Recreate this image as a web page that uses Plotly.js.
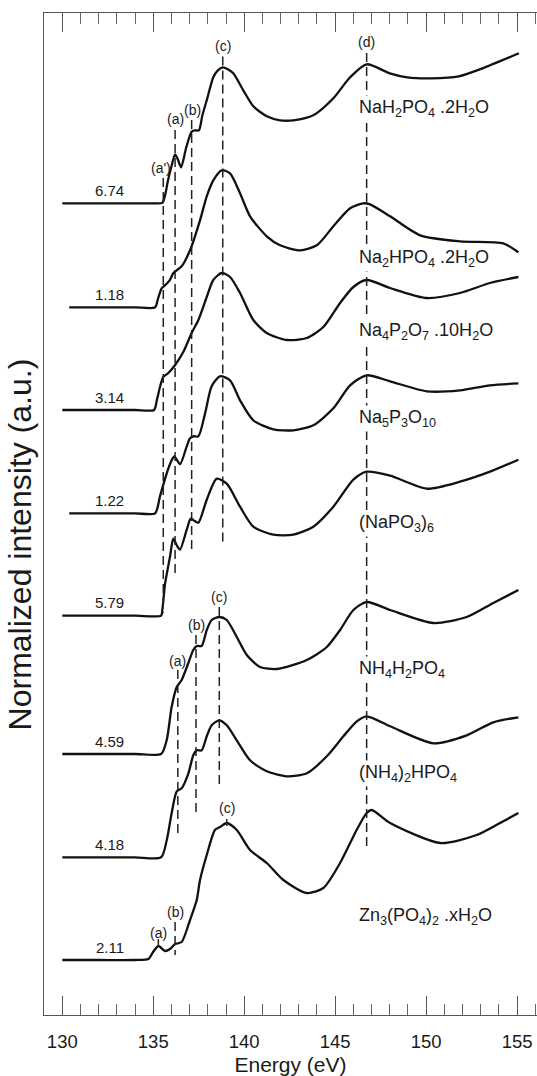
<!DOCTYPE html>
<html>
<head>
<meta charset="utf-8">
<script src="https://cdn.plot.ly/plotly-3.0.1.min.js"></script>
<style>html,body{margin:0;padding:0;background:#fff;}#chart{width:537px;height:1076px;}</style>
</head>
<body>
<div id="chart"></div>
<script>
// ---- Data (energy in eV, normalized intensity above each baseline) ----
const compounds = [
  "NaH<sub>2</sub>PO<sub>4</sub> .2H<sub>2</sub>O",
  "Na<sub>2</sub>HPO<sub>4</sub> .2H<sub>2</sub>O",
  "Na<sub>4</sub>P<sub>2</sub>O<sub>7</sub> .10H<sub>2</sub>O",
  "Na<sub>5</sub>P<sub>3</sub>O<sub>10</sub>",
  "(NaPO<sub>3</sub>)<sub>6</sub>",
  "NH<sub>4</sub>H<sub>2</sub>PO<sub>4</sub>",
  "(NH<sub>4</sub>)<sub>2</sub>HPO<sub>4</sub>",
  "Zn<sub>3</sub>(PO<sub>4</sub>)<sub>2</sub> .xH<sub>2</sub>O"
];
const factors = ["6.74", "1.18", "3.14", "1.22", "5.79", "4.59", "4.18", "2.11"];
const offsets = [8.117, 7.077, 6.05, 5.017, 3.993, 2.61, 1.577, 0.55];

const eNaH2PO4 = [130.0,132.0,134.0,135.0,135.5,135.65,135.8,136.0,136.2,136.35,136.53,136.8,137.0,137.13,137.3,137.51,137.7,137.94,138.3,138.55,138.82,139.1,139.4,139.95,140.5,141.24,141.97,142.7,143.8,144.9,145.82,146.73,148.0,148.96,150.29,151.8,153.1,155.1];
const iNaH2PO4 = [0,0,0,0,0.005,0.08,0.22,0.37,0.49,0.44,0.36,0.55,0.67,0.72,0.73,0.73,0.88,1.03,1.26,1.33,1.36,1.34,1.30,1.13,0.97,0.87,0.83,0.83,0.88,1.05,1.26,1.39,1.30,1.26,1.25,1.27,1.35,1.50];

const eNa2HPO4 = [130.38,132,134,135.1,135.25,135.46,135.65,135.9,136.1,136.29,136.56,137.02,137.57,137.94,138.3,138.76,139.22,139.77,140.32,141.24,141.97,143.07,143.99,144.9,145.82,146.55,146.92,148.02,149.67,151.87,154.24,155.07];
const iNa2HPO4 = [0,0,0,0,0.08,0.19,0.22,0.27,0.34,0.37,0.41,0.57,0.87,1.11,1.27,1.37,1.34,1.14,0.91,0.71,0.62,0.57,0.62,0.81,0.99,1.04,1.03,0.91,0.72,0.66,0.64,0.55];

const eNa4P2O7 = [130,132,134,135.04,135.2,135.37,135.55,135.83,136.2,136.65,137.11,137.48,137.94,138.3,138.76,139.22,139.77,140.5,141.24,142.34,143.44,144.35,145.27,146.0,146.73,148.02,150.03,151.86,153.51,155.07];
const iNa4P2O7 = [0,0,0,0,0.1,0.23,0.33,0.37,0.45,0.58,0.77,0.9,1.13,1.3,1.37,1.33,1.17,0.9,0.77,0.7,0.72,0.83,1.07,1.23,1.3,1.22,1.12,1.17,1.27,1.33];

const eNa5P3O10 = [130.38,132,134,135.1,135.37,135.74,136.01,136.16,136.47,136.84,137.02,137.2,137.48,137.85,138.21,138.67,139.22,139.77,140.5,141.6,142.7,143.8,144.9,145.82,146.73,148.02,150.03,151.86,153.51,155.07];
const iNa5P3O10 = [0,0,0,0,0.17,0.4,0.53,0.57,0.49,0.67,0.75,0.77,0.77,1.0,1.27,1.37,1.33,1.13,0.93,0.84,0.83,0.88,1.05,1.28,1.38,1.32,1.22,1.23,1.28,1.30];

const eNaPO3 = [130,132,134,135.43,135.5,135.65,135.92,136.1,136.3,136.47,136.84,137.06,137.25,137.48,137.94,138.49,139.04,139.77,140.5,141.6,142.7,143.8,144.9,146.0,146.73,148.02,150.03,151.86,153.51,155.07];
const iNaPO3 = [0,0,0,0,0.06,0.32,0.59,0.77,0.70,0.66,0.86,0.97,0.95,0.93,1.16,1.37,1.32,1.09,0.89,0.81,0.81,0.89,1.09,1.36,1.44,1.40,1.27,1.34,1.44,1.56];

const eNH4H2PO4 = [130,132,134,135.43,135.74,136.01,136.29,136.56,136.93,137.2,137.39,137.66,137.94,138.21,138.63,139.04,139.59,140.14,140.87,141.79,143.44,144.54,145.27,146.0,146.73,148.02,150.4,152.23,153.69,155.07];
const iNH4H2PO4 = [0,0,0,0,0.14,0.47,0.67,0.74,0.91,1.04,1.08,1.08,1.24,1.34,1.37,1.34,1.17,0.99,0.87,0.85,0.94,1.07,1.24,1.44,1.52,1.44,1.31,1.37,1.51,1.64];

const eNH42HPO4 = [130,132,134,135.43,135.74,136.01,136.29,136.56,136.93,137.2,137.39,137.66,137.94,138.21,138.63,139.04,139.59,140.32,141.24,142.34,143.44,144.54,145.45,146.19,146.73,148.02,150.4,152.23,153.69,155.07];
const iNH42HPO4 = [0,0,0,0,0.17,0.44,0.66,0.69,0.84,1.02,1.07,1.07,1.21,1.32,1.37,1.32,1.17,0.97,0.86,0.81,0.84,1.01,1.21,1.36,1.41,1.31,1.14,1.22,1.35,1.40];

const eZn3PO42 = [130,132,134,134.73,134.99,135.28,135.65,135.92,136.2,136.56,137.02,137.39,137.57,137.94,138.39,138.67,139.04,139.59,140.32,141.24,142.15,143.44,144.35,145.27,146.18,146.73,147.01,148.02,150.77,152.78,154.06,155.07];
const iZn3PO42 = [0,0,0,0.01,0.08,0.14,0.09,0.11,0.16,0.18,0.40,0.60,0.80,1.05,1.30,1.33,1.37,1.30,1.10,0.97,0.80,0.67,0.72,0.97,1.30,1.47,1.50,1.37,1.17,1.25,1.37,1.47];

const energies = [eNaH2PO4, eNa2HPO4, eNa4P2O7, eNa5P3O10, eNaPO3, eNH4H2PO4, eNH42HPO4, eZn3PO42];
const intensities = [iNaH2PO4, iNa2HPO4, iNa4P2O7, iNa5P3O10, iNaPO3, iNH4H2PO4, iNH42HPO4, iZn3PO42];

const xTicks = [130, 135, 140, 145, 150, 155];

// ---- Traces ----
const traces = energies.map((e, k) => ({
  type: 'scatter', mode: 'lines', x: e,
  y: intensities[k].map(v => v + offsets[k]),
  line: {color: '#111', width: 2.3, shape: 'spline', smoothing: 0.7},
  hoverinfo: 'skip'
}));

// ---- Dashed guide lines ----
const dash = {color: '#222', width: 1.5, dash: '9px,5px'};
function vline(x, y0, y1, style) {
  return {type: 'line', xref: 'x', yref: 'y', x0: x, x1: x, y0: y0, y1: y1, line: style || dash, layer: 'above'};
}
const solidTick = {color: '#222', width: 1.5};
const shapes = [
  vline(135.55, 8.37, 4.02), vline(136.2, 8.85, 4.37), vline(137.11, 8.95, 4.62),
  vline(138.82, 9.585, 4.72), vline(146.73, 9.62, 1.65),
  vline(136.35, 3.45, 1.77), vline(137.35, 3.80, 2.02), vline(138.63, 4.08, 2.30),
  vline(135.28, 0.76, 0.69, solidTick), vline(136.2, 0.93, 0.60), vline(139.04, 1.96, 1.89, solidTick)
];

// ---- Annotations ----
const txt = '#1a1a1a';
const fam = 'Liberation Sans, Arial, Helvetica, sans-serif';
function peak(x, y, t) {
  return {x: x, y: y, xref: 'x', yref: 'y', text: t, showarrow: false, font: {size: 14, color: txt, family: fam}, xanchor: 'center', yanchor: 'middle'};
}
const annotations = [
  peak(135.4, 8.47, "(a')"), peak(136.2, 8.96, '(a)'), peak(137.13, 9.05, '(b)'),
  peak(138.83, 9.695, '(c)'), peak(146.72, 9.73, '(d)'),
  peak(136.34, 3.54, '(a)'), peak(137.35, 3.90, '(b)'), peak(138.63, 4.18, '(c)'),
  peak(135.28, 0.817, '(a)'), peak(136.2, 1.033, '(b)'), peak(139.04, 2.067, '(c)')
];
const labelY = [9.067, 7.567, 6.833, 5.967, 4.917, 3.457, 2.417, 0.983];
compounds.forEach((c, k) => annotations.push({
  x: 146.18, y: labelY[k], xref: 'x', yref: 'y', text: c, showarrow: false,
  xanchor: 'left', yanchor: 'middle', bgcolor: '#fff', borderpad: 1,
  font: {size: 18, color: txt, family: fam}
}));
factors.forEach((f, k) => annotations.push({
  x: 132.62, y: offsets[k] + 0.13, xref: 'x', yref: 'y', text: f, showarrow: false,
  xanchor: 'center', yanchor: 'middle', font: {size: 15, color: txt, family: fam}
}));
// y-axis title, placed as in the reference (slightly below the plot centre)
annotations.push({
  xref: 'paper', yref: 'paper', x: -0.048, y: 0.47, xanchor: 'center', yanchor: 'middle',
  text: 'Normalized intensity (a.u.)', textangle: -90, showarrow: false,
  font: {size: 32, color: txt, family: fam}
});

const layout = {
  width: 537, height: 1076,
  margin: {l: 44, r: 0, t: 13, b: 61, pad: 0},
  paper_bgcolor: '#fff', plot_bgcolor: '#fff',
  showlegend: false,
  font: {family: fam, color: txt},
  xaxis: {
    range: [128.994, 156.094], tickvals: xTicks, ticktext: xTicks.map(String),
    ticks: 'inside', ticklen: 19, tickwidth: 1, tickcolor: '#555',
    minor: {dtick: 1, tick0: 130, ticks: 'inside', ticklen: 11, tickwidth: 1, tickcolor: '#666', showgrid: false},
    showline: true, linecolor: '#555', linewidth: 1, mirror: 'ticks',
    showgrid: false, zeroline: false,
    tickfont: {size: 18.5, color: txt, family: fam},
    ticklabelstandoff: 10,
    title: {text: 'Energy (eV)', font: {size: 21, color: txt, family: fam}, standoff: 10},
    automargin: false
  },
  yaxis: {
    range: [0, 10.02], showticklabels: false, ticks: '',
    showline: true, linecolor: '#555', linewidth: 1, mirror: false,
    showgrid: false, zeroline: false,
    automargin: false
  },
  shapes: shapes,
  annotations: annotations
};

Plotly.newPlot('chart', traces, layout, {staticPlot: true, displayModeBar: false});
</script>
</body>
</html>
